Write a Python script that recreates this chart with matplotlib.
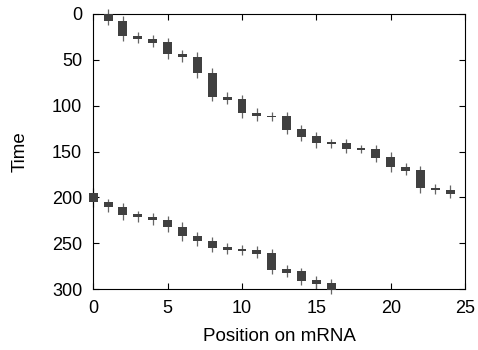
import numpy as np
import matplotlib.pyplot as plt

plt.rcParams['font.family'] = ['Liberation Sans', 'DejaVu Sans']

# first wave: positions 1..24
pos1 = list(range(1, 25))
q_lo1 = [0, 7.5, 24.5, 27, 31, 43.5, 47, 64, 90, 92.5, 108, 111, 111.5, 125.5,
         133.5, 140, 141, 146.5, 147.5, 155.5, 167, 170.5, 189.5, 191.5]
q_hi1 = [7.5, 24.5, 27, 31.5, 44, 47, 64, 90.5, 93.5, 108.5, 111.5, 112, 126, 134,
         141, 141.5, 147, 148, 156.5, 167, 171, 190, 191.5, 196.5]
w_lo1 = [-5, 2.5, 19.5, 22.5, 26.5, 39, 41.5, 59, 85, 88, 103, 106.5, 107, 121,
         129, 136, 136.5, 143, 142.5, 151, 162, 166, 185, 186.5]
w_hi1 = [12.5, 29, 32, 36, 49, 52, 69.5, 95, 98, 113, 116.5, 117, 131, 138.5,
         146, 146, 152, 152, 161, 172, 176, 195, 196.5, 200.5]

# second wave: positions 0..16
pos2 = list(range(0, 17))
q_lo2 = [195, 205.5, 210.5, 218.5, 221, 224.5, 232, 242.5, 248, 254, 256, 257,
         261, 278, 280.5, 290, 293.5]
q_hi2 = [205, 211, 219.5, 221.5, 225, 232.5, 242.5, 248, 255, 257, 258.5, 261.5,
         279, 282, 291, 294, 301]
w_lo2 = [190, 201.5, 206.5, 214.5, 216.5, 220, 227, 238, 243, 249.5, 252, 253,
         256, 273.5, 276.5, 286, 289]
w_hi2 = [210, 216, 224.5, 226.5, 230, 237.5, 248, 253, 260, 261.5, 262.5, 266.5,
         283.5, 287, 295.5, 300, 305.5]

fig = plt.figure(figsize=(4.78, 3.5), dpi=100)
ax = fig.add_axes([0.195, 0.174, 0.778, 0.786])

for pos, qlo, qhi, wlo, whi in [(pos1, q_lo1, q_hi1, w_lo1, w_hi1),
                                (pos2, q_lo2, q_hi2, w_lo2, w_hi2)]:
    qlo = np.array(qlo)
    qhi = np.array(qhi)
    ax.vlines(pos, wlo, whi, color='#666666', lw=0.9, zorder=2, clip_on=False)
    ax.bar(pos, np.maximum(qhi - qlo, 1.2), bottom=qlo, width=0.6,
           color='#404040', lw=0, zorder=3, clip_on=False)

ax.set_xlim(0, 25)
ax.set_ylim(300, 0)
ax.set_xticks([0, 5, 10, 15, 20, 25])
ax.set_yticks([0, 50, 100, 150, 200, 250, 300])
ax.tick_params(direction='in', top=True, right=True, labelsize=13, length=4)
ax.tick_params(axis='x', pad=8)
ax.tick_params(axis='y', pad=8)
for s in ax.spines.values():
    s.set_linewidth(0.8)
ax.set_xlabel('Position on mRNA', fontsize=13.5, labelpad=8)
ax.set_ylabel('Time', fontsize=13.5, labelpad=17)

fig.savefig('out.png', dpi=100)
